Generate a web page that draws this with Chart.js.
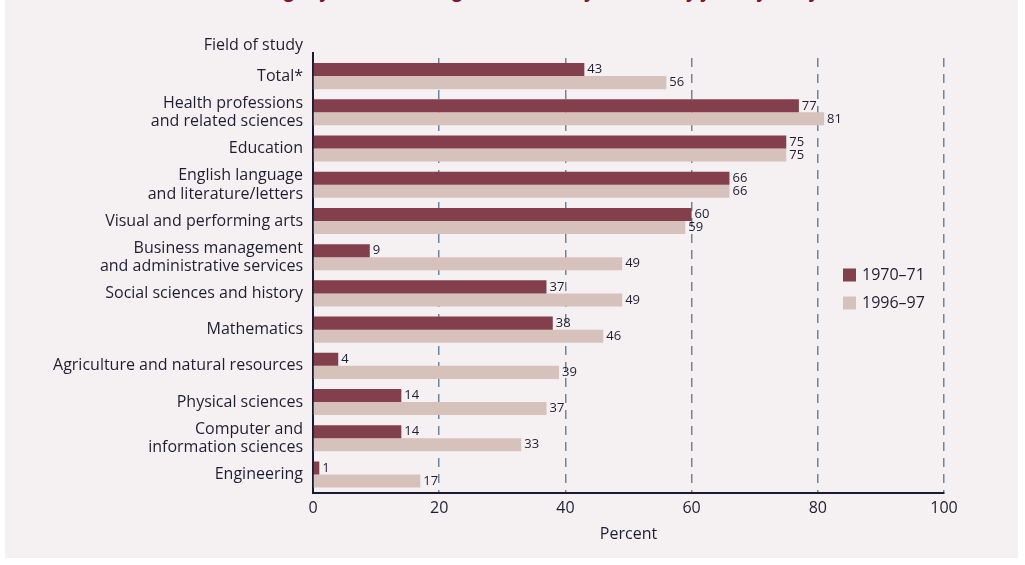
<!DOCTYPE html>
<html>
<head>
<meta charset="utf-8">
<title>Bachelor's degrees earned by women</title>
<script src="https://cdn.jsdelivr.net/npm/chart.js@4.4.1/dist/chart.umd.min.js"></script>
<style>
    html, body { margin: 0; padding: 0; background: #ffffff; }
    #wrap { position: relative; width: 1025px; height: 565px; overflow: hidden; }
    #panel { position: absolute; left: 5px; top: 0; width: 1013px; height: 558px; background: #f5f1f3; }
    #title {
        position: absolute; left: 0; top: -20px; width: 1025px; text-align: center;
        font: italic bold 19px/20px 'Open Sans', sans-serif; color: #7b1530; white-space: nowrap;
    }
    #chartBox { position: absolute; left: 0; top: 0; width: 1025px; height: 565px; }
</style>
</head>
<body>
<div id="wrap">
    <div id="panel"></div>
    <div id="title">Percentage of bachelor's degrees earned by women, by field of study</div>
    <div id="chartBox"><canvas id="degreeChart"></canvas></div>
</div>
<script>
// Chart data
const fields = [
    'Total*',
    ['Health professions', 'and related sciences'],
    'Education',
    ['English language', 'and literature/letters'],
    'Visual and performing arts',
    ['Business management', 'and administrative services'],
    'Social sciences and history',
    'Mathematics',
    'Agriculture and natural resources',
    'Physical sciences',
    ['Computer and', 'information sciences'],
    'Engineering'
];
const seriesNames = ['1970\u201371', '1996\u201397'];
const values1970 = [43, 77, 75, 66, 60, 9, 37, 38, 4, 14, 14, 1];
const values1996 = [56, 81, 75, 66, 59, 49, 49, 46, 39, 37, 33, 17];
const xTicks = [0, 20, 40, 60, 80, 100];

// Colors
const barColors = ['#833f4b', '#d7c1bb'];
const textColor = '#1e1e32';
const gridColor = '#6a86a0';
const axisColor = '#1a1a33';

const labelFont = "'Open Sans', sans-serif";

// Value labels at the end of each bar
const valueLabels = {
    id: 'valueLabels',
    afterDatasetsDraw(chart) {
        const ctx = chart.ctx;
        ctx.save();
        ctx.font = "13px 'Liberation Sans Narrow', 'Open Sans', sans-serif";
        ctx.fillStyle = textColor;
        ctx.textAlign = 'left';
        ctx.textBaseline = 'middle';
        chart.data.datasets.forEach((ds, i) => {
            const meta = chart.getDatasetMeta(i);
            meta.data.forEach((bar, j) => {
                ctx.fillText(String(ds.data[j]), bar.x + 3, bar.y);
            });
        });
        ctx.restore();
    }
};

// Axis heading, top of the axis line and the legend inside the plot
const extras = {
    id: 'extras',
    afterDraw(chart) {
        const ctx = chart.ctx;
        const area = chart.chartArea;
        ctx.save();
        ctx.strokeStyle = axisColor;
        ctx.lineWidth = 2;
        ctx.beginPath();
        ctx.moveTo(area.left, 52);
        ctx.lineTo(area.left, area.top);
        ctx.stroke();

        ctx.font = '16px ' + labelFont;
        ctx.fillStyle = textColor;
        ctx.textBaseline = 'middle';
        ctx.textAlign = 'right';
        ctx.fillText('Field of study', area.left - 10, 45);

        // legend
        ctx.textAlign = 'left';
        seriesNames.forEach((name, i) => {
            const y = 275 + i * 28;
            ctx.fillStyle = barColors[i];
            ctx.fillRect(843, y - 6.5, 13, 13);
            ctx.fillStyle = textColor;
            ctx.fillText(name, 862, y);
        });
        ctx.restore();
    }
};

const ctx = document.getElementById('degreeChart');
new Chart(ctx, {
    type: 'bar',
    data: {
        labels: fields,
        datasets: [
            { label: seriesNames[0], data: values1970, backgroundColor: barColors[0], borderWidth: 0 },
            { label: seriesNames[1], data: values1996, backgroundColor: barColors[1], borderWidth: 0 }
        ]
    },
    options: {
        indexAxis: 'y',
        responsive: true,
        maintainAspectRatio: false,
        animation: false,
        layout: { padding: { left: 0, right: 81, top: 58, bottom: 21 } },
        datasets: { bar: { categoryPercentage: 0.72, barPercentage: 1 } },
        plugins: {
            legend: { display: false },
            tooltip: { enabled: false },
            title: { display: false }
        },
        scales: {
            x: {
                min: 0,
                max: 100,
                afterBuildTicks: (scale) => { scale.ticks = xTicks.map(v => ({ value: v })); },
                grid: {
                    drawTicks: false,
                    lineWidth: 1.5,
                    color: (c) => (c.tick && c.tick.value === 0 ? 'rgba(0,0,0,0)' : gridColor)
                },
                border: { display: true, color: axisColor, width: 2, dash: [9, 7] },
                ticks: {
                    padding: 6,
                    color: textColor,
                    font: { family: labelFont, size: 16 }
                },
                title: {
                    display: true,
                    text: 'Percent',
                    color: textColor,
                    padding: { top: 1, bottom: 0 },
                    font: { family: labelFont, size: 16 }
                }
            },
            y: {
                afterFit: (scale) => { scale.width = 313; },
                grid: { display: false, drawTicks: false },
                border: { display: true, color: axisColor, width: 2 },
                ticks: {
                    padding: 10,
                    color: textColor,
                    autoSkip: false,
                    font: { family: labelFont, size: 16, lineHeight: 1.15 }
                }
            }
        }
    },
    plugins: [valueLabels, extras]
});
</script>
</body>
</html>
